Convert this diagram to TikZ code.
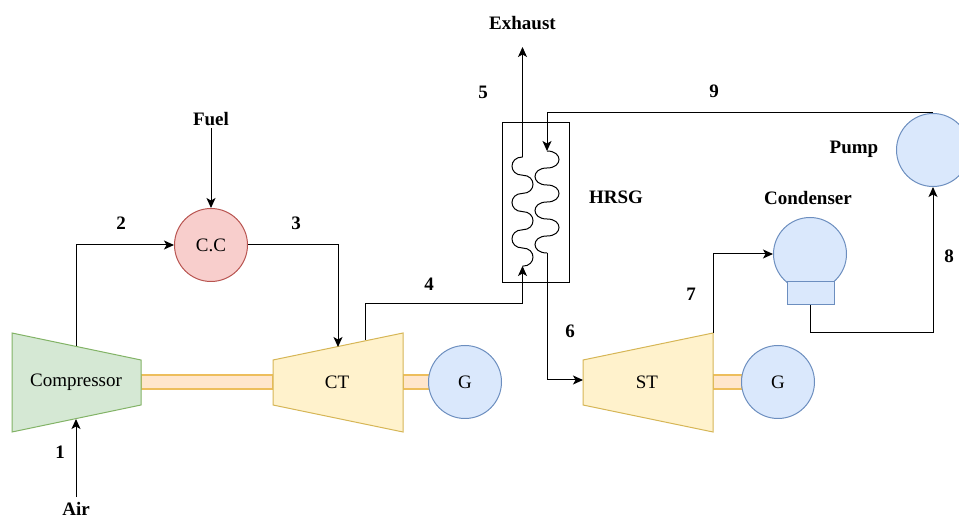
\documentclass[tikz,border=0pt]{standalone}
\usepackage{fontspec}
\setmainfont{Liberation Serif}
\usetikzlibrary{arrows.meta}
\definecolor{grnfill}{HTML}{D5E8D4}
\definecolor{grnline}{HTML}{82B366}
\definecolor{ylwfill}{HTML}{FFF2CC}
\definecolor{ylwline}{HTML}{D6B656}
\definecolor{redfill}{HTML}{F8CECC}
\definecolor{redline}{HTML}{B85450}
\definecolor{blufill}{HTML}{DAE8FC}
\definecolor{bluline}{HTML}{6C8EBF}
\definecolor{shffill}{HTML}{FFE6CC}
\definecolor{shfline}{HTML}{EDBE5C}
\tikzset{
	flow/.style={line width=1pt,-{Stealth[length=10pt,width=9pt,inset=2.5pt]}},
	lab/.style={font=\fontsize{19}{21}\selectfont\bfseries,inner sep=2pt},
	txt/.style={font=\fontsize{19}{21}\selectfont,inner sep=0pt},
	round/.style={circle,draw=bluline,fill=blufill,line width=1pt,minimum size=73pt,inner sep=0pt,font=\fontsize{19}{21}\selectfont},
	shaft/.style={fill=shffill,draw=shfline,line width=1.6pt},
	coil/.style={line width=1pt}
}
\begin{document}
\begin{tikzpicture}[x=1pt,y=-1pt]
			\useasboundingbox (0,0) rectangle (959,518);
			% shafts go under the machines
			\draw[shaft] (141,375) rectangle (273,389);
			\draw[shaft] (403,375) rectangle (430,389);
			\draw[shaft] (713,375) rectangle (742,389);
			% machines
			\draw[fill=grnfill,draw=grnline,line width=1pt] (12,333) -- (141,360) -- (141,405) -- (12,432) -- cycle;
			\draw[fill=ylwfill,draw=ylwline,line width=1pt] (273,360) -- (403,333) -- (403,432) -- (273,405) -- cycle;
			\draw[fill=ylwfill,draw=ylwline,line width=1pt] (583,360) -- (713,333) -- (713,432) -- (583,405) -- cycle;
			\node[txt] (comp) at (76,382) {Compressor};
			\node[txt] (ct) at (337,382) {CT};
			\node[txt] (st) at (647,382) {ST};
			\node[round] (gena) at (465,382) {G};
			\node[round] (genb) at (778,382) {G};
			\node[round,draw=redline,fill=redfill] (cc) at (211,245) {C.C};
			\node[round] (pump) at (933,150) {};
			\node[round] (cond) at (810,254) {};
			\node[draw=bluline,fill=blufill,line width=1pt,minimum width=47pt,minimum height=23pt,inner sep=0pt] (condbase) at (810.5,293.5) {};
			% hrsg box and its two coils
			\node[draw,line width=1pt,minimum width=67pt,minimum height=160pt,inner sep=0pt] (hrsg) at (535.5,203) {};
			\coordinate (gastop) at (522.5,157);
			\coordinate (gasbot) at (522.5,266);
			\coordinate (wattop) at (547,151);
			\coordinate (watbot) at (547,253);
			\draw[coil] (gastop) foreach \i in {0,1,2} {
				.. controls ++(-14,0) and ++(-14,0) .. ++(0,18.2)
				.. controls ++(14,0) and ++(14,0) .. ++(0,18.2)};
			\draw[coil] (wattop) foreach \i in {0,1,2} {
				.. controls ++(16,0) and ++(16,0) .. ++(0,17)
				.. controls ++(-16,0) and ++(-16,0) .. ++(0,17)};
			% free ends on the sloped sides
			\coordinate (compout) at (76,346);
			\coordinate (compin) at (76,419);
			\coordinate (ctin) at (338,347);
			\coordinate (ctout) at (365,340);
			\coordinate (stin) at (583,380);
			\coordinate (stout) at (713,333);
			\coordinate (exhtip) at (522.5,47);
			% labels
			\node[lab] (air) at (76,509) {Air};
			\node[lab] (fuel) at (211,119) {Fuel};
			\node[lab] (exh) at (522.5,23) {Exhaust};
			\node[lab] (hrsglab) at (616,197) {HRSG};
			\node[lab] (pumplab) at (854,149) {Pump};
			\node[lab] (condlab) at (808,198) {Condenser};
			\node[lab] (one) at (60,452) {1};
			\node[lab] (two) at (121,223) {2};
			\node[lab] (three) at (296,223) {3};
			\node[lab] (four) at (429,284) {4};
			\node[lab] (five) at (483,92) {5};
			\node[lab] (six) at (570,331) {6};
			\node[lab] (seven) at (691,294) {7};
			\node[lab] (eight) at (949,256) {8};
			\node[lab] (nine) at (714,91) {9};
			% connectors
			\draw[flow,shorten <=3pt] (air.north) -- (compin);
			\draw[flow] (fuel.south) -- (cc.north);
			\draw[flow] (compout) |- (cc.west);
			\draw[flow] (cc.east) -| (ctin);
			\draw[flow] (ctout) -- ++(0,-36) -| (gasbot);
			\draw[flow] (gastop) -- (exhtip);
			\draw[flow] (watbot) |- (stin);
			\draw[flow] (stout) |- (cond.west);
			\draw[flow] (condbase.south) -- ++(0,27) -| (pump.south);
			\draw[flow] (pump.north) -| (wattop);
			\end{tikzpicture}
\end{document}
